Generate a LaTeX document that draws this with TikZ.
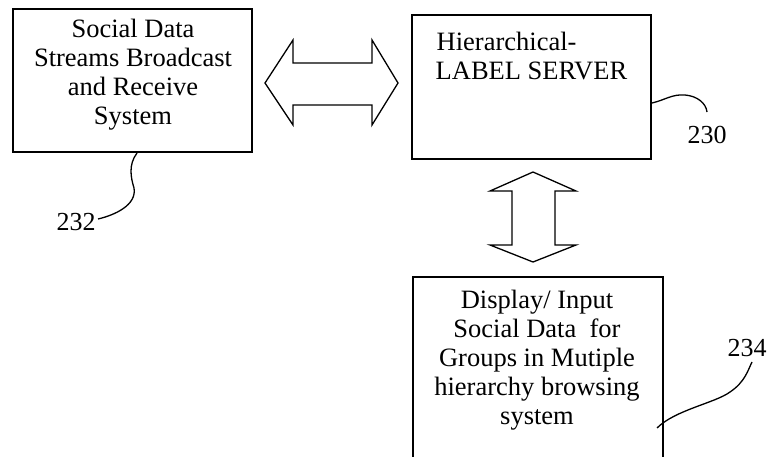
\documentclass[tikz,border=0pt]{standalone}
\usepackage{fontspec}
\setmainfont{Liberation Serif}
\begin{document}
\begin{tikzpicture}[x=1pt,y=-1pt,line width=1.4pt,
  boxstyle/.style={draw=black,line width=1.4pt,inner sep=0pt},
  txt/.style={font=\fontsize{26.5}{29}\selectfont,align=center,inner sep=0pt},
  numlbl/.style={font=\fontsize{26}{29}\selectfont,inner sep=0pt},
  hollow/.style={draw=black,line width=1.3pt,line join=miter,fill=white},
  leader/.style={draw=black,line width=1.3pt}]
\useasboundingbox (0,0) rectangle (770,457);
\clip (0,0) rectangle (770,457);
% boxes
\node[boxstyle,minimum width=239pt,minimum height=143pt] (b1) at (132.5,80.5) {};
\node[txt] (t1) at (133,75) {Social Data\\Streams Broadcast\\and Receive\\System};
\node[boxstyle,minimum width=239pt,minimum height=144pt] (b2) at (531.5,87) {};
\node[txt,align=left,anchor=west] (t2) at (435,56) {\hspace*{1pt}Hierarchical-\\LABEL SERVER};
\node[boxstyle,minimum width=250pt,minimum height=200pt] (b3) at (538,377) {};
\node[txt] (t3) at (537,360.5) {Display/ Input\\Social Data\ \ for\\Groups in Mutiple\\hierarchy browsing\\system};
% hollow double arrows
\path[hollow] (265,83) -- (293,40) -- (293,63) -- (372,63) -- (372,40) -- (398,83)
  -- (372,125) -- (372,105) -- (293,105) -- (293,125) -- cycle;
\path[hollow] (533,172) -- (576,191) -- (555,191) -- (555,245) -- (576,245) -- (533,262)
  -- (490,245) -- (512,245) -- (512,191) -- (490,191) -- cycle;
% labels and leaders
\node[numlbl] (n232) at (76,222) {232};
\node[numlbl] (n230) at (707,135) {230};
\node[numlbl] (n234) at (747,348) {234};
\coordinate (l232a) at (137,153);
\coordinate (l232b) at (98,219);
\draw[leader] (l232a) .. controls (128,165) and (131,178) .. (134,188)
  .. controls (137,205) and (115,215) .. (l232b);
\coordinate (l230a) at (652,103);
\coordinate (l230b) at (707,112);
\draw[leader] (l230a) .. controls (665,100) and (672,94) .. (685,95)
  .. controls (697,96) and (706,103) .. (l230b);
\coordinate (l234a) at (657,428);
\coordinate (l234b) at (752,362);
\draw[leader] (l234a) .. controls (675,410) and (715,403) .. (730,392)
  .. controls (745,382) and (748,370) .. (l234b);
\end{tikzpicture}
\end{document}
